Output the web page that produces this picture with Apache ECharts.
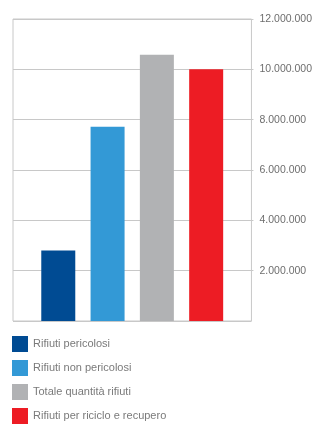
<!DOCTYPE html>
<html>
<head>
<meta charset="utf-8">
<script src="https://cdn.jsdelivr.net/npm/echarts@6/dist/echarts.min.js"></script>
<style>
  html, body { margin: 0; padding: 0; background: #fff; }
  #chart { width: 315px; height: 425px; }
</style>
</head>
<body>
<div id="chart"></div>
<script>
// categorie (una sola colonna, le serie fanno da barre)
const categories = ['Rifiuti']
const seriesNames = ['Rifiuti pericolosi', 'Rifiuti non pericolosi', 'Totale quantità rifiuti', 'Rifiuti per riciclo e recupero']
const seriesValues = [2800000, 7720000, 10580000, 10000000]
const colors = ['#004b93', '#3399d6', '#b1b2b4', '#ed1c24']

// formattazione con punto delle migliaia
const fmt = v => String(v).replace(/\B(?=(\d{3})+(?!\d))/g, '.')

const myChart = echarts.init(document.getElementById('chart'))

const series = seriesNames.map((name, i) => ({
  name,
  type: 'bar',
  data: [seriesValues[i]],
  barWidth: 34,
  barGap: '45%',
  itemStyle: { color: colors[i] }
}))

myChart.setOption({
  animation: false,
  grid: {
    left: 13,
    right: 63,
    top: 19,
    bottom: 104,
    show: true,
    borderColor: '#c8c8c8',
    borderWidth: 1
  },
  legend: {
    orient: 'vertical',
    left: 12,
    top: 336,
    padding: 0,
    itemWidth: 16,
    itemHeight: 16,
    itemGap: 8,
    icon: 'rect',
    selectedMode: false,
    textStyle: {
      color: '#7a7a7a',
      fontFamily: 'Liberation Sans',
      fontSize: 11,
      padding: [4, 0, 0, 0]
    },
    data: seriesNames
  },
  xAxis: {
    type: 'category',
    data: categories,
    axisLine: { show: false },
    axisTick: { show: false },
    axisLabel: { show: false }
  },
  yAxis: {
    type: 'value',
    position: 'right',
    min: 0,
    max: 12000000,
    interval: 2000000,
    axisLine: { show: false },
    axisTick: { show: true, length: 2, lineStyle: { color: '#c8c8c8' } },
    splitLine: { lineStyle: { color: '#c8c8c8', width: 1 } },
    axisLabel: {
      showMinLabel: false,
      margin: 8,
      color: '#6e6e6e',
      fontFamily: 'Liberation Sans',
      fontSize: 10.5,
      padding: [3, 0, 0, 0],
      formatter: fmt
    }
  },
  series
})
</script>
</body>
</html>
